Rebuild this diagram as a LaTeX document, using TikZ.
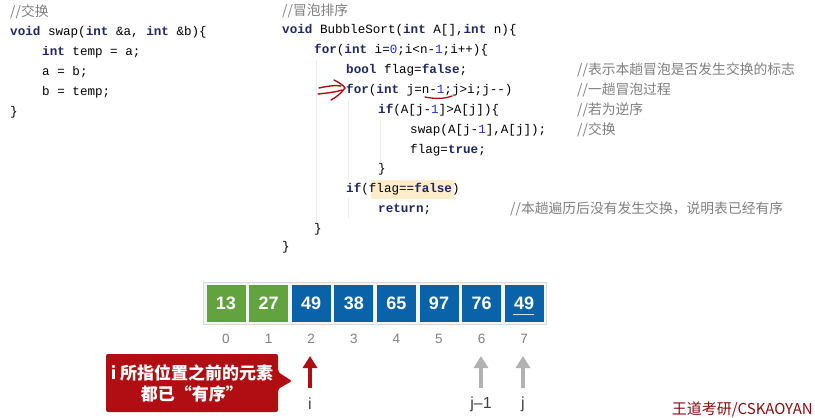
\documentclass[tikz,border=0pt]{standalone}
\usepackage{fontspec}
\usetikzlibrary{arrows.meta}
\setmainfont{Liberation Sans}
\newfontfamily\cjk{Noto Sans CJK SC}
\setmonofont{Liberation Mono}
\definecolor{kw}{HTML}{1F2766}
\definecolor{num}{HTML}{2233CC}
\definecolor{cm}{HTML}{808080}
\definecolor{cb}{HTML}{0A62A8}
\definecolor{cg}{HTML}{62A33F}
\definecolor{cr}{HTML}{B00E12}
\newcommand{\kk}[1]{\textbf{\color{kw}#1}}
\newcommand{\nn}[1]{{\color{num}#1}}
\begin{document}
\begin{tikzpicture}[x=1pt,y=-1pt,
 code/.style={anchor=west,inner sep=0pt,font=\fontsize{12.6}{14}\ttfamily},
 cmt/.style={anchor=west,inner sep=0pt,text=cm,font=\fontsize{13.8}{15}\ttfamily\cjk},
 cell/.style={minimum width=39,minimum height=37,inner sep=0,text=white,font=\fontsize{18}{19}\bfseries},
 idx/.style={text=gray,font=\fontsize{13.5}{14}\selectfont},
 guide/.style={draw=black!8,line width=0.6pt},
 parr/.style={-{Triangle[width=14pt,length=12pt]},line width=4.5pt}]
\useasboundingbox (0,0) rectangle (815,418);
\fill[white] (0,0) rectangle (815,418);
% left code
\node[cmt] (l0) at (10,12) {//交换};
\node[code] (l1) at (10,32) {\kk{void} swap(\kk{int} \&a, \kk{int} \&b)\{};
\node[code] (l2) at (42,52) {\kk{int} temp = a;};
\node[code] (l3) at (42,72) {a = b;};
\node[code] (l4) at (42,92) {b = temp;};
\node[code] (l5) at (10,112) {\}};
% highlight
\fill[yellow!25!orange!18] (371,180) rectangle (454,199);
% guides
\draw[guide] (316,60)--(316,222);
\draw[guide] (348,100)--(348,180);
\draw[guide] (348,198)--(348,218);
\draw[guide] (380,120)--(380,162);
% right code
\node[cmt] (r0) at (282,11) {//冒泡排序};
\node[code] (r1) at (282,30) {\kk{void} BubbleSort(\kk{int} A[],\kk{int} n)\{};
\node[code] (r2) at (314,50) {\kk{for}(\kk{int} i=\nn{0};i<n-\nn{1};i++)\{};
\node[code] (r3) at (346,70) {\kk{bool} flag=\kk{false};};
\node[code] (r4) at (346,90) {\kk{for}(\kk{int} j=n-\nn{1};j>i;j--)};
\node[code] (r5) at (378,110) {\kk{if}(A[j-\nn{1}]>A[j])\{};
\node[code] (r6) at (410,130) {swap(A[j-\nn{1}],A[j]);};
\node[code] (r7) at (410,150) {flag=\kk{true};};
\node[code] (r8) at (378,169) {\}};
\node[code] (r9) at (346,189) {\kk{if}(flag==\kk{false})};
\node[code] (r10) at (378,209) {\kk{return};};
\node[code] (r11) at (314,229) {\}};
\node[code] (r12) at (282,247) {\}};
\node[cmt] (c3) at (577,70) {//表示本趟冒泡是否发生交换的标志};
\node[cmt] (c4) at (577,90) {//一趟冒泡过程};
\node[cmt] (c5) at (577,110) {//若为逆序};
\node[cmt] (c6) at (577,130) {//交换};
\node[cmt] (c10) at (510,209) {//本趟遍历后没有发生交换，说明表已经有序};
% red annotations
\draw[cr,line width=1.3pt,line cap=round] (425,97) .. controls (435,99) and (444,99) .. (452,96);
\draw[cr,line width=1.4pt,line cap=round] (319,88) .. controls (328,86) and (336,85) .. (341,86);
\draw[cr,line width=1.4pt,line cap=round] (318,94) .. controls (328,93) and (336,92) .. (342,90);
\draw[cr,line width=1.4pt,line cap=round] (334,80) .. controls (340,83) and (344,86) .. (345,88) .. controls (341,93) and (337,97) .. (331,100);
% array
\fill[black!4] (203,282) rectangle (546,324);
\draw[black!15] (203,282) rectangle (546,324);
\foreach \v/\c [count=\k from 0] in {13/cg,27/cg,49/cb,38/cb,65/cb,97/cb,76/cb,49/cb}{
  \node[cell,fill=\c] (a\k) at ({226+42.6*\k},303) {\v};
  \node[idx] (n\k) at ({226+42.6*\k},339) {\k};
}
\draw[white!80!cb,line width=1pt] (513,314)--(534,314);
% arrows
\coordinate (ti) at (310,388);
\coordinate (tj1) at (481,388);
\coordinate (tj) at (523,388);
\draw[parr,cr] (ti) -- (310,356);
\draw[parr,black!30] (tj1) -- (481,356);
\draw[parr,black!30] (tj) -- (523,356);
\node[idx,text=black!75,font=\fontsize{16}{17}\selectfont] (li) at (310,404) {i};
\node[idx,text=black!75,font=\fontsize{16}{17}\selectfont] (lj1) at (481,404) {j–1};
\node[idx,text=black!75,font=\fontsize{16}{17}\selectfont] (lj) at (523,404) {j};
% callout
\fill[cr,rounded corners=2pt] (106,354) -- (278,354) -- (278,372) -- (292,381) -- (278,389) -- (278,412) -- (106,412) -- cycle;
\node[text=white,align=center,font=\fontsize{17}{21}\selectfont\bfseries\cjk] (co) at (192,383) {i 所指位置之前的元素\\都已“有序”};
\node[anchor=south east,inner sep=1pt,text=cr!80!black,font=\fontsize{15}{16}\selectfont\cjk] (wm) at (814,418) {王道考研/CSKAOYAN};
\end{tikzpicture}
\end{document}
